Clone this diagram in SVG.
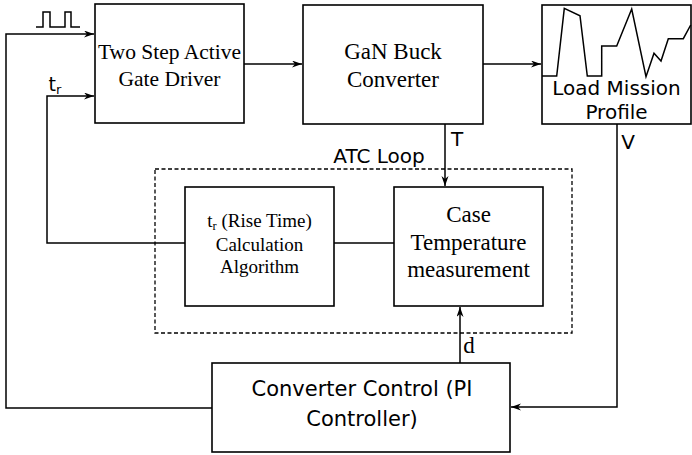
<svg xmlns="http://www.w3.org/2000/svg" width="692" height="455" viewBox="0 0 692 455">
<style>
.box{fill:#fff;stroke:#000;stroke-width:1.6}
.ln{fill:none;stroke:#000;stroke-width:1.5}
.serif{font-family:"Liberation Serif","Times New Roman",serif;fill:#000;text-anchor:middle}
.sans{font-family:"DejaVu Sans","Noto Sans",sans-serif;fill:#000;text-anchor:middle}
</style>
<defs>
<marker id="arr" markerWidth="11" markerHeight="8" refX="10" refY="3.5" orient="auto" markerUnits="userSpaceOnUse">
<path d="M0,0 L10,3.5 L0,7 L3,3.5 z" fill="#000"/>
</marker>
</defs>
<rect x="155" y="169" width="417" height="164" fill="none" stroke="#000" stroke-width="1.3" stroke-dasharray="4,2.5"/>
<text class="sans" x="379" y="163" font-size="20">ATC Loop</text>
<g id="connectors">
<path class="ln" d="M36,27 H43 V12 H50 V27 H65 V12 H71 V27 H80"/>
<path class="ln" d="M212,408 H6 V34 H94" marker-end="url(#arr)"/>
<path class="ln" d="M185,243 H47 V96 H94" marker-end="url(#arr)"/>
<path class="ln" d="M244,64 H302" marker-end="url(#arr)"/>
<path class="ln" d="M483,64 H541" marker-end="url(#arr)"/>
<path class="ln" d="M445,124 V186" marker-end="url(#arr)"/>
<path class="ln" d="M334,243 H394"/>
<path class="ln" d="M460,364 V307" marker-end="url(#arr)"/>
<path class="ln" d="M617,124 V407 H511" marker-end="url(#arr)"/>
</g>
<text class="sans" x="55" y="91" font-size="19">t<tspan font-size="13" dy="3">r</tspan></text>
<text class="sans" x="457" y="146" font-size="20">T</text>
<text class="sans" x="628" y="149" font-size="20">V</text>
<text class="serif" x="469" y="353" font-size="23">d</text>
<g id="gate-driver">
<rect class="box" x="95" y="4" width="149" height="119"/>
<text class="serif" x="169.5" y="59" font-size="21.5">Two Step Active</text>
<text class="serif" x="169.5" y="86" font-size="21.5">Gate Driver</text>
</g>
<g id="gan-buck">
<rect class="box" x="303" y="5" width="180" height="119"/>
<text class="serif" x="393" y="59" font-size="23">GaN Buck</text>
<text class="serif" x="393" y="87" font-size="23">Converter</text>
</g>
<g id="load-mission">
<rect class="box" x="542" y="5" width="149" height="119"/>
<path class="ln" d="M542,76 L556.7,76 L564.3,8.3 L580,15.7 L587.3,76 L601.7,76 L601.7,46 L616.7,46 L631.7,9 L646,76.7 L654,53.3 L661,61 L668.3,38.7 L683.3,38.7 L690.7,25"/>
<text class="sans" x="616.5" y="95" font-size="20">Load Mission</text>
<text class="sans" x="616.5" y="119" font-size="20">Profile</text>
</g>
<g id="rise-time">
<rect class="box" x="185" y="187" width="149" height="119"/>
<text class="serif" x="259.5" y="227" font-size="19">t<tspan font-size="12.5" dy="3">r</tspan><tspan dy="-3"> (Rise Time)</tspan></text>
<text class="serif" x="259.5" y="251" font-size="19">Calculation</text>
<text class="serif" x="259.5" y="273" font-size="19">Algorithm</text>
</g>
<g id="case-temp">
<rect class="box" x="394" y="187" width="149" height="119"/>
<text class="serif" x="468.5" y="222" font-size="23">Case</text>
<text class="serif" x="468.5" y="250" font-size="23">Temperature</text>
<text class="serif" x="468.5" y="277" font-size="23">measurement</text>
</g>
<g id="converter-control">
<rect class="box" x="212" y="363" width="298" height="89"/>
<text class="sans" x="362" y="396" font-size="21">Converter Control (PI</text>
<text class="sans" x="362" y="426" font-size="21">Controller)</text>
</g>
</svg>
